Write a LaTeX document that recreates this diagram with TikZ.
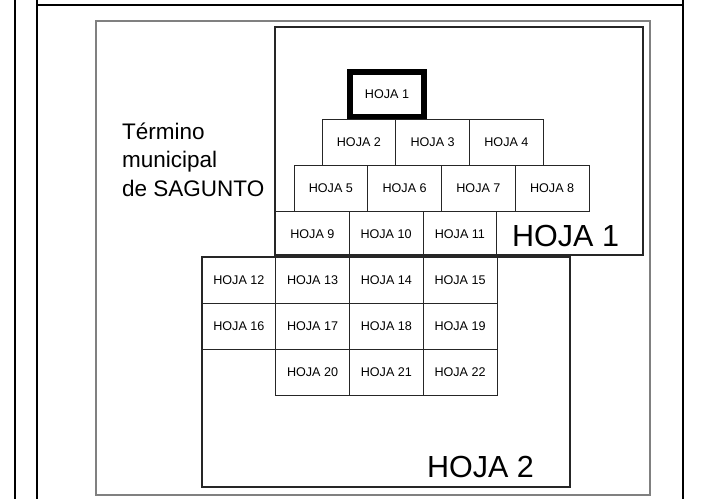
\documentclass[tikz,border=0pt]{standalone}
\usepackage{fontspec}
\setmainfont{Liberation Sans}
\begin{document}
\begin{tikzpicture}[x=1pt,y=-1pt,
  cell/.style={draw=black!85, line width=0.9pt, minimum width=73.75pt, minimum height=46pt, inner sep=0pt, font=\fontsize{12.6}{14}\selectfont},
  thickcell/.style={draw=black, line width=6pt, minimum width=74pt, minimum height=45pt, inner sep=0pt, font=\fontsize{12.6}{14}\selectfont},
  frameline/.style={line width=2.2pt, black},
  sheetbox/.style={draw=black!85, line width=1.1pt},
  graybox/.style={draw=black!50, line width=1.1pt},
  biglabel/.style={font=\fontsize{30.5}{34}\selectfont, inner sep=0pt, anchor=base west},
  saglabel/.style={font=\fontsize{22.5}{26}\selectfont, inner sep=0pt, anchor=base west}]
\useasboundingbox (0,0) rectangle (703,499);
% outer frame
\coordinate (fl1t) at (15,0);   \coordinate (fl1b) at (15,499);
\coordinate (fl2t) at (37,0);   \coordinate (fl2b) at (37,499);
\coordinate (frt)  at (683,0);  \coordinate (frb)  at (683,499);
\coordinate (ftl)  at (37,5);   \coordinate (ftr)  at (683,5);
\draw[frameline] (fl1t) -- (fl1b);
\draw[frameline] (fl2t) -- (fl2b);
\draw[frameline] (frt) -- (frb);
\draw[frameline] (ftl) -- (ftr);
% gray rectangle
\draw[graybox] (96,21) rectangle (650,495);
% sheet boxes
\draw[sheetbox] (275,27) rectangle (643,255);
\draw[sheetbox] (202,257) rectangle (570,487);
% labels
\node[biglabel] (lab1) at (512,246) {HOJA 1};
\node[biglabel] (lab2) at (427,477) {HOJA 2};
\node[saglabel] (s1) at (122,139) {Término};
\node[saglabel] (s2) at (122,167.5) {municipal};
\node[saglabel] (s3) at (122,196) {de SAGUNTO};
% cells
\node[thickcell] (h1) at (387,94.5) {HOJA 1};
\node[cell] (h2) at (358.9,142) {HOJA 2};
\node[cell] (h3) at (432.6,142) {HOJA 3};
\node[cell] (h4) at (506.4,142) {HOJA 4};
\node[cell] (h5) at (330.9,188) {HOJA 5};
\node[cell] (h6) at (404.6,188) {HOJA 6};
\node[cell] (h7) at (478.4,188) {HOJA 7};
\node[cell] (h8) at (552.1,188) {HOJA 8};
\node[cell] (h9) at (312.4,234) {HOJA 9};
\node[cell] (h10) at (386.1,234) {HOJA 10};
\node[cell] (h11) at (459.9,234) {HOJA 11};
\node[cell] (h12) at (238.9,280) {HOJA 12};
\node[cell] (h13) at (312.6,280) {HOJA 13};
\node[cell] (h14) at (386.4,280) {HOJA 14};
\node[cell] (h15) at (460.1,280) {HOJA 15};
\node[cell] (h16) at (238.9,326) {HOJA 16};
\node[cell] (h17) at (312.6,326) {HOJA 17};
\node[cell] (h18) at (386.4,326) {HOJA 18};
\node[cell] (h19) at (460.1,326) {HOJA 19};
\node[cell] (h20) at (312.6,372) {HOJA 20};
\node[cell] (h21) at (386.4,372) {HOJA 21};
\node[cell] (h22) at (460.1,372) {HOJA 22};
\end{tikzpicture}
\end{document}
